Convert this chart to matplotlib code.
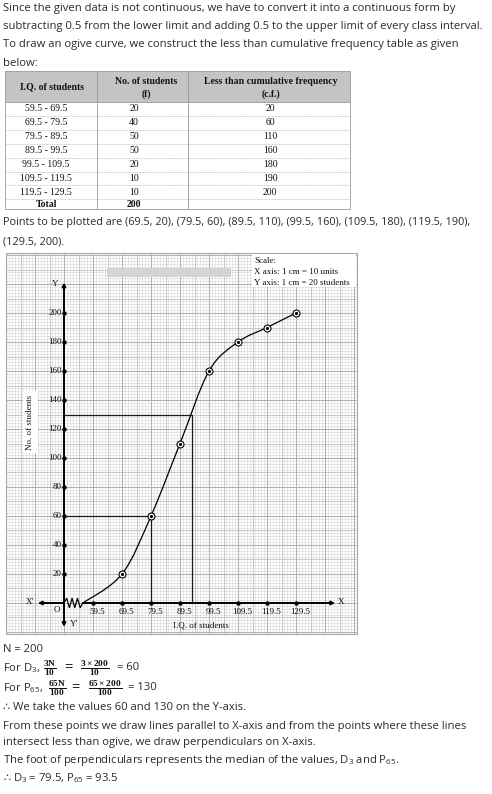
import numpy as np
import matplotlib.pyplot as plt
from matplotlib.path import Path
from matplotlib.patches import PathPatch, Rectangle

# data read from the worked example
class_intervals = ['59.5 - 69.5', '69.5 - 79.5', '79.5 - 89.5', '89.5 - 99.5',
                   '99.5 - 109.5', '109.5 - 119.5', '119.5 - 129.5']
frequencies = [20, 40, 50, 50, 20, 10, 10]
cum_freq = [20, 60, 110, 160, 180, 190, 200]
upper_limits = [69.5, 79.5, 89.5, 99.5, 109.5, 119.5, 129.5]
x_ticks = [59.5, 69.5, 79.5, 89.5, 99.5, 109.5, 119.5, 129.5]
y_ticks = [20, 40, 60, 80, 100, 120, 140, 160, 180, 200]
curve_start = (56, 0)          # where the hand drawn ogive leaves the axis break
d3_value, d3_cf = 79.5, 60
p65_value, p65_cf = 93.5, 130

TEXT = '#2b2b2b'
plt.rcParams['font.family'] = ['Open Sans', 'DejaVu Sans']
plt.rcParams['mathtext.fontset'] = 'custom'
plt.rcParams['mathtext.rm'] = 'Open Sans'
plt.rcParams['mathtext.it'] = 'Open Sans:italic'
plt.rcParams['mathtext.bf'] = 'Liberation Serif:bold'
plt.rcParams['mathtext.fallback'] = 'stixsans'
SERIF = ['Liberation Serif', 'DejaVu Serif']

fig = plt.figure(figsize=(4.92, 7.94), dpi=100, facecolor='white')

# page axes in pixel units
bg = fig.add_axes([0, 0, 1, 1])
bg.set_xlim(0, 492)
bg.set_ylim(794, 0)
bg.axis('off')

fs = 8.15
top_lines = [
    'Since the given data is not continuous, we have to convert it into a continuous form by',
    'subtracting 0.5 from the lower limit and adding 0.5 to the upper limit of every class interval.',
    'To draw an ogive curve, we construct the less than cumulative frequency table as given',
    'below:',
]
for i, s in enumerate(top_lines):
    bg.text(3, 9 + 18 * i, s, fontsize=fs, color=TEXT, va='center')

# table
col_x = [5, 97, 188, 350]
head_top, head_bot, row_h = 71, 102, 13.9
bg.add_patch(Rectangle((col_x[0], head_top), col_x[-1] - col_x[0], head_bot - head_top,
                       facecolor='#c4c4c4', edgecolor='#9a9a9a', lw=0.6))
n = len(class_intervals)
bottom = head_bot + row_h * n + 10
bg.add_patch(Rectangle((col_x[0], head_bot), col_x[-1] - col_x[0], bottom - head_bot,
                       facecolor='white', edgecolor='#9a9a9a', lw=0.6))
for cx in col_x[1:-1]:
    bg.plot([cx, cx], [head_top, bottom], color='#9a9a9a', lw=0.6)
for i in range(1, n + 1):
    yy = head_bot + row_h * i
    bg.plot([col_x[0], col_x[-1]], [yy, yy], color='#a8a8a8', lw=0.5, ls=(0, (1, 1)))

hd = dict(fontsize=7, fontweight='bold', color='#111111', ha='center', va='center', family=SERIF)
bg.text(52, 87, 'I.Q. of students', **hd)
bg.text(146, 82, 'No. of students', **hd)
bg.text(146, 94, '(f)', **hd)
bg.text(271, 82, 'Less than cumulative frequency', **hd)
bg.text(271, 94, '(c.f.)', **hd)
bd = dict(fontsize=7, color='#111111', ha='center', va='center', family=SERIF)
for i in range(n):
    yy = head_bot + row_h * (i + 0.5)
    bg.text(46, yy, class_intervals[i], **bd)
    bg.text(134, yy, str(frequencies[i]), **bd)
    bg.text(270, yy, str(cum_freq[i]), **bd)
ty = head_bot + row_h * n + 5
bg.text(46, ty, 'Total', **hd)
bg.text(134, ty, str(sum(frequencies)), **hd)

pts_txt = ', '.join('(%g, %d)' % (x, y) for x, y in zip(upper_limits, cum_freq))
cut = pts_txt.index('(129.5')
bg.text(3, 223, 'Points to be plotted are ' + pts_txt[:cut].rstrip(), fontsize=7.85,
        color=TEXT, va='center')
bg.text(3, 242, pts_txt[cut:] + '.', fontsize=7.85, color=TEXT, va='center')

# formula lines: text pieces placed left to right
bg.text(3, 650, 'N = 200', fontsize=fs, color=TEXT, va='center')
frac_rows = [
    (668, r'For D$_3$,', r'$\frac{\mathbf{3N}}{\mathbf{10}}$', 50,
     r'$\frac{\mathbf{3\times200}}{\mathbf{10}}$', 95, 68, '= 60', 117),
    (688, r'For P$_{65}$,', r'$\frac{\mathbf{65N}}{\mathbf{100}}$', 57,
     r'$\frac{\mathbf{65\times200}}{\mathbf{100}}$', 105, 75, '= 130', 128),
]
for yy, lead, f1, x1, f2, x2, xeq, tail, xt in frac_rows:
    bg.text(3, yy, lead, fontsize=fs, color=TEXT, va='center')
    bg.text(x1, yy + 0.5, f1, fontsize=9.6, color='#111111', ha='center', va='center')
    bg.text(xeq, yy, '=', fontsize=10.5, color=TEXT, ha='center', va='center')
    bg.text(x2, yy + 0.5, f2, fontsize=9.6, color='#111111', ha='center', va='center')
    bg.text(xt, yy, tail, fontsize=fs, color=TEXT, va='center')

bottom_lines = [
    (708, '\u2234 We take the values 60 and 130 on the Y-axis.'),
    (726, 'From these points we draw lines parallel to X-axis and from the points where these lines'),
    (743, 'intersect less than ogive, we draw perpendiculars on X-axis.'),
    (761, r'The foot of perpendiculars represents the median of the values, D$_3$ and P$_{65}$.'),
]
for yy, s in bottom_lines:
    bg.text(3, yy, s, fontsize=fs, color=TEXT, va='center')
bg.text(3, 778, '\u2234', fontsize=fs, color=TEXT, va='center', family=['DejaVu Sans'])
bg.text(13, 778, r'D$_3$ = 79.5, P$_{65}$ = 93.5', fontsize=fs, color=TEXT, va='center')

# graph paper axes: x 10 units = 29 px, y 20 units = 29 px
ax = fig.add_axes([6 / 492, (794 - 634) / 794, 351 / 492, 381 / 794])
ax.set_xlim(29.5, 150.53)
ax.set_ylim(-21.38, 241.38)
ax.set_xticks([])
ax.set_yticks([])
for sp in ax.spines.values():
    sp.set_color('#a8a8a8')
    sp.set_linewidth(0.8)

x0, x1 = ax.get_xlim()
y0, y1 = ax.get_ylim()
ax.vlines(np.arange(29.5, 151, 1), y0, y1, color='#d6d6d6', lw=0.4, zorder=0)
ax.hlines(np.arange(-20, 242, 2), x0, x1, color='#d6d6d6', lw=0.4, zorder=0)
ax.vlines(np.arange(34.5, 151, 10), y0, y1, color='#c0c0c0', lw=0.55, zorder=0)
ax.hlines(np.arange(-10, 242, 20), x0, x1, color='#c0c0c0', lw=0.55, zorder=0)
ax.vlines(np.arange(29.5, 151, 10), y0, y1, color='#b0b0b0', lw=0.75, zorder=0)
ax.hlines(np.arange(-20, 242, 20), x0, x1, color='#b0b0b0', lw=0.75, zorder=0)

# axes lines
arrow = dict(color='black', lw=1.4, mutation_scale=5, shrinkA=0, shrinkB=0)
ax.annotate('', xy=(49.5, 221), xytext=(49.5, -16.5), arrowprops=dict(arrowstyle='<|-|>', **arrow))
ax.annotate('', xy=(40.5, 0), xytext=(49.5, 0), arrowprops=dict(arrowstyle='-|>', **arrow))
ax.annotate('', xy=(143, 0), xytext=(curve_start[0], 0), arrowprops=dict(arrowstyle='-|>', **arrow))
zz_x = np.linspace(49.5, curve_start[0], 8)
zz_y = [0, 3.2, -3.2, 3.2, -3.2, 3.2, -3.2, 0]
ax.plot(zz_x, zz_y, color='black', lw=0.9)

ax.plot([49.5] * len(y_ticks), y_ticks, 'o', color='black', ms=2.2)
ax.plot(x_ticks, [0] * len(x_ticks), 'o', color='black', ms=2.2)

gt = dict(fontsize=6.5, color='#111111', family=SERIF)
for v in y_ticks:
    ax.text(48.7, v, str(v), ha='right', va='center', **gt)
for v in x_ticks:
    ax.text(v + 1.4, -6.2, '%g' % v, ha='center', va='center', **gt)
ax.text(46.4, 220, 'Y', ha='center', va='center', **gt)
ax.text(53.0, -14.5, "Y'", ha='center', va='center', **gt)
ax.text(37.8, 0.7, "X'", ha='center', va='center', **gt)
ax.text(144.9, 0.7, 'X', ha='center', va='center', **gt)
ax.text(47.1, -4.8, 'O', ha='center', va='center', **gt)
ax.text(96.7, -15.2, 'I.Q. of students', ha='center', va='center', **gt)
ax.text(37.8, 124.8, 'No. of students', rotation=90, ha='center', va='center',
        bbox=dict(facecolor='white', edgecolor='none', pad=2.5), **gt)

# median lines
ax.plot([49.5, d3_value, d3_value], [d3_cf, d3_cf, 0], color='#1a1a1a', lw=0.9)
ax.plot([49.5, p65_value, p65_value], [p65_cf, p65_cf, 0], color='#1a1a1a', lw=0.9)

# smooth ogive (Catmull-Rom through the points, drawn as cubic Bezier)
P = np.array([curve_start] + list(zip(upper_limits, cum_freq)), dtype=float)
ext = np.vstack([P[0], P, P[-1]])
verts = [tuple(P[0])]
codes = [Path.MOVETO]
for i in range(len(P) - 1):
    p0, p1, p2, p3 = ext[i], ext[i + 1], ext[i + 2], ext[i + 3]
    c1 = p1 + (p2 - p0) / 6
    c2 = p2 - (p3 - p1) / 6
    verts += [tuple(c1), tuple(c2), tuple(p2)]
    codes += [Path.CURVE4] * 3
ax.add_patch(PathPatch(Path(verts, codes), facecolor='none', edgecolor='black', lw=0.9, zorder=3))
ax.plot(upper_limits, cum_freq, 'o', ms=5, mfc='white', mec='black', mew=0.8, zorder=4)
ax.plot(upper_limits, cum_freq, 'o', ms=1.3, color='black', zorder=5)

# overlay: scale note and the grey strip on the paper
top = fig.add_axes([0, 0, 1, 1], zorder=5)
top.set_xlim(0, 492)
top.set_ylim(794, 0)
top.axis('off')
top.patch.set_alpha(0)
top.add_patch(Rectangle((107, 268), 124, 9, facecolor='#d4d4d4', edgecolor='none'))
top.add_patch(Rectangle((252, 254), 104, 33, facecolor='white', edgecolor='none'))
for i, s in enumerate(['Scale:', 'X axis: 1 cm = 10 units', 'Y axis: 1 cm = 20 students']):
    top.text(254, 261 + 11 * i, s, va='center', **gt)

fig.savefig('out.png', dpi=100)
